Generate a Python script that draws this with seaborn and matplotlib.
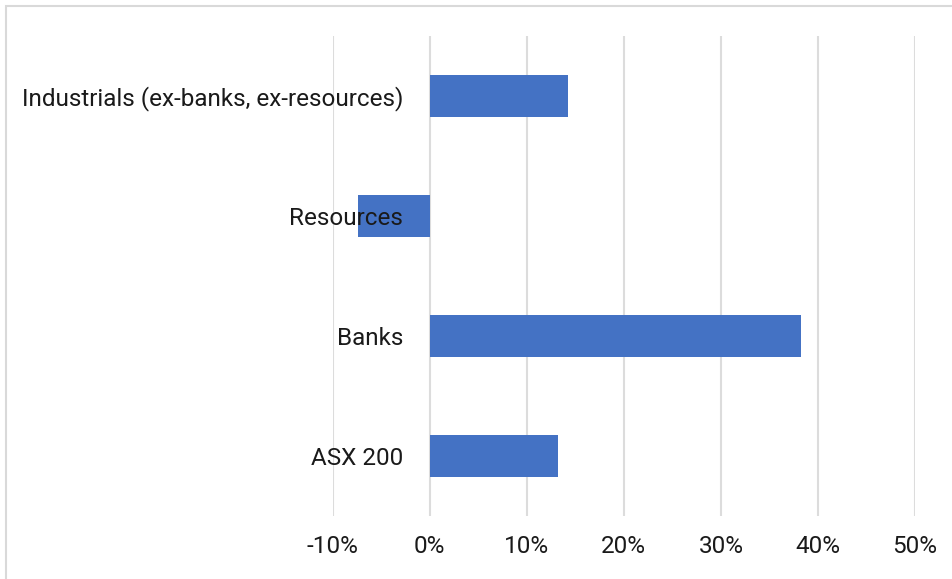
import pandas as pd
import seaborn as sns
import matplotlib.pyplot as plt
from matplotlib.patches import Rectangle
from matplotlib.ticker import FuncFormatter

categories = ['Industrials (ex-banks, ex-resources)', 'Resources', 'Banks', 'ASX 200']
returns = [14.2, -7.4, 38.3, 13.2]
x_ticks = [-10, 0, 10, 20, 30, 40, 50]

df = pd.DataFrame({'category': categories, 'return': returns})

sns.set_style('white')
plt.rcParams['font.family'] = ['Roboto', 'DejaVu Sans']

fig = plt.figure(figsize=(9.52, 5.79), dpi=100)
ax = fig.add_axes([332.7 / 952, 1 - 516 / 579, (915 - 332.7) / 952, 480 / 579])

sns.barplot(data=df, x='return', y='category', orient='h', color='#4472C4',
            saturation=1, width=0.35, linewidth=0, ax=ax, zorder=3)

ax.set_xlim(-10, 50)
ax.set_xticks(x_ticks)
ax.xaxis.set_major_formatter(FuncFormatter(lambda v, p: '%d%%' % v))
ax.grid(axis='x', color='#dcdcdc', linewidth=1.5, zorder=0)
ax.grid(axis='y', visible=False)
for s in ['top', 'right', 'bottom']:
    ax.spines[s].set_visible(False)
ax.spines['left'].set_position(('data', 0))
ax.spines['left'].set_visible(False)
ax.tick_params(axis='y', length=0, pad=19, labelsize=17.5, labelcolor='#1a1a1a')
ax.tick_params(axis='x', length=0, pad=14, labelsize=17.5, labelcolor='#1a1a1a')
ax.yaxis.set_zorder(10)
ax.set_xlabel('')
ax.set_ylabel('')

# light border around the chart area
fig.patches.append(Rectangle((6 / 952, -0.1), 1.2, 1 - 6 / 579 + 0.1, transform=fig.transFigure,
                             fill=False, edgecolor='#d9d9d9', linewidth=1.5, figure=fig))

plt.savefig('out.png', dpi=100)
